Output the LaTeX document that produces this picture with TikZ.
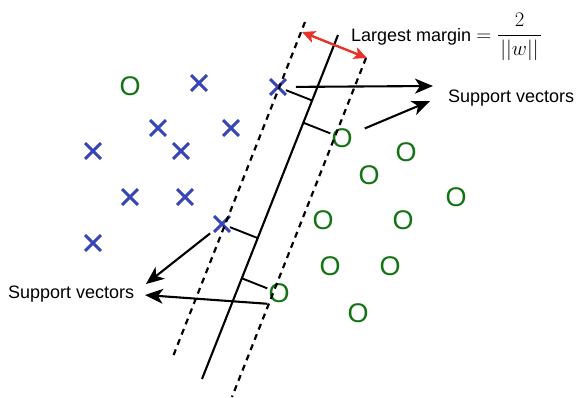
\documentclass[tikz,border=0pt]{standalone}
\usepackage{tikz}
\usetikzlibrary{positioning,arrows.meta,shapes.misc,calc}
\usepackage{fontspec}
\usepackage{amsmath}
\setmainfont{Liberation Sans}
\definecolor{xblue}{RGB}{55,70,180}
\definecolor{ogreen}{RGB}{20,115,20}
\definecolor{mred}{RGB}{230,50,40}

\begin{document}
\begin{tikzpicture}[x=1pt,y=-1pt,>={Stealth[length=18pt,width=15pt,inset=5pt]},
		xmark/.style={cross out,draw=xblue,line width=2.9pt,minimum size=13pt,inner sep=0pt},
		omark/.style={text=ogreen,font=\fontsize{27}{27}\selectfont,inner sep=1pt},
		lbl/.style={font=\fontsize{18}{20}\selectfont,inner sep=0pt,anchor=base west},
		hyp/.style={line width=2.1pt},
		marg/.style={line width=2.2pt,dash pattern=on 6pt off 5pt},
		svarrow/.style={->,line width=2.1pt}]
				\useasboundingbox (0,0) rectangle (578,397);
				
				% class -1 and class +1 samples
				\foreach \p [count=\i] in {(278,87),(199,83),(158,128),(231,128),(93,151),
					(181,151),(130,197),(185,197),(222,224),(93,243)}{
					\node[xmark] (x\i) at \p {};
				}
				\foreach \p [count=\i] in {(130,86),(342,138),(406,152),(369,175),(456,197),
					(323,220),(403,220),(330,266),(390,266),(279,293),(358,313)}{
					\node[omark] (o\i) at \p {O};
				}
				
				% hyperplane and margins
				\coordinate (hypTop) at (338,35);
				\coordinate (hypBot) at (202,379);
				\coordinate (lTop) at (305,22);
				\coordinate (lBot) at (172,359);
				\coordinate (rTop) at (366,58);
				\coordinate (rBot) at (232,397);
				\draw[hyp] (hypTop)--(hypBot);
				\draw[marg] (lTop)--(lBot);
				\draw[marg] (rTop)--(rBot);
				
				\foreach \s [count=\i] in {x1,o2,x9,o10}{
					\coordinate (f\i) at ($(hypTop)!(\s)!(hypBot)$);
					\draw[line width=1.9pt] (\s)--(f\i);
				}
				
				\coordinate (mL) at (302,32);
				\coordinate (mR) at (367,58);
				\draw[mred,line width=2.4pt,{Stealth[length=13pt,width=12pt,inset=3pt]}-{Stealth[length=13pt,width=12pt,inset=3pt]}] (mL)--(mR);
				
				\node[lbl] (margin) at (351,41) {Largest margin {\fontsize{20}{22}\selectfont$=\dfrac{2}{\mkern2mu||w||\mkern2mu}$}};
				\node[lbl] (svR) at (448,102) {Support vectors};
				\node[lbl] (svL) at (8,298) {Support vectors};
				
				\coordinate (tipA) at (433,86);
				\coordinate (tipB) at (430,101);
				\coordinate (tipC) at (146,284);
				\coordinate (tipD) at (145,295);
				\draw[svarrow,shorten <=10pt] (x1)--(tipA);
				\draw[svarrow,shorten <=12pt] (o2)--(tipB);
				\draw[svarrow,shorten <=5pt] (x9)--(tipC);
				\draw[svarrow] (o10.south west)--(tipD);
\end{tikzpicture}
\end{document}
